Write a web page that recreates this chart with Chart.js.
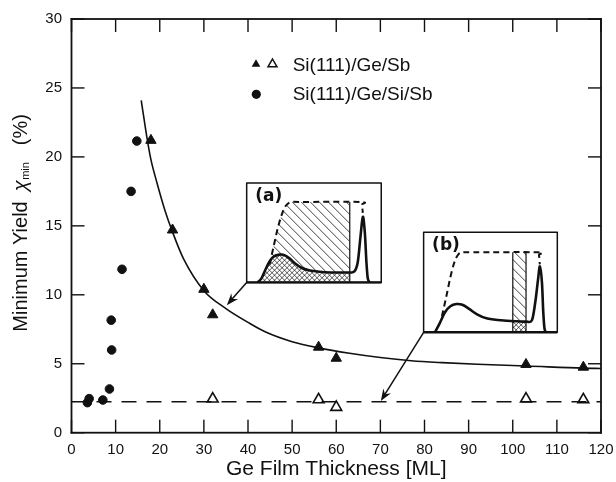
<!DOCTYPE html>
<html>
<head>
<meta charset="utf-8">
<title>Minimum yield vs Ge film thickness</title>
<script src="https://cdn.jsdelivr.net/npm/chart.js@4.4.1/dist/chart.umd.min.js"></script>
<style>
  html, body { margin: 0; padding: 0; background: #fff; }
</style>
</head>
<body>
<canvas id="myChart" width="616" height="482"></canvas>
<script>
// Si(111)/Ge/Sb, filled triangles (on the solid fit)
const geSbX = [18, 22.9, 30, 32, 56, 60, 103, 116];
const geSbY = [21.2, 14.7, 10.4, 8.55, 6.2, 5.4, 4.95, 4.75];
// Si(111)/Ge/Sb, open triangles (on the dashed level)
const geSbOpenX = [32, 56, 60, 103, 116];
const geSbOpenY = [2.45, 2.4, 1.85, 2.45, 2.4];
// Si(111)/Ge/Si/Sb, circles
const geSiSbX = [3.6, 4.0, 7.1, 8.6, 9.1, 9.0, 11.45, 13.5, 14.8];
const geSiSbY = [2.18, 2.47, 2.37, 3.17, 6.0, 8.16, 11.85, 17.5, 21.15];
// solid guide curve
const fitX = [15.8, 17.25, 18, 19.3, 21.2, 22.9, 25.4, 30, 35, 40, 44, 50, 56, 63, 70, 77, 84, 92, 103, 116, 120];
const fitY = [24.1, 21.1, 19.8, 18.2, 16.1, 14.55, 12.6, 10.3, 9.0, 8.0, 7.3, 6.6, 6.15, 5.76, 5.45, 5.22, 5.08, 4.96, 4.84, 4.68, 4.66];
// dashed level
const levelX = [0, 120];
const levelY = [2.25, 2.25];
// tick labels
const xTicks = [0, 10, 20, 30, 40, 50, 60, 70, 80, 90, 100, 110, 120];
const yTicks = [0, 5, 10, 15, 20, 25, 30];

// inset spectra, in inset coordinates (0..1 across, 0..1 up)
const aDash = [[0.17, 0.18], [0.2, 0.36], [0.23, 0.54], [0.26, 0.68], [0.29, 0.77], [0.33, 0.81], [0.4, 0.81], [0.845, 0.81], [0.856, 0.78], [0.863, 0.7]];
const aSolid = [[0.08, 0], [0.11, 0.04], [0.14, 0.13], [0.17, 0.21], [0.2, 0.26], [0.245, 0.28], [0.28, 0.275], [0.32, 0.24], [0.36, 0.19], [0.41, 0.145], [0.47, 0.12], [0.56, 0.105], [0.66, 0.1], [0.76, 0.1], [0.8, 0.11], [0.825, 0.2], [0.845, 0.45], [0.863, 0.66], [0.878, 0.5], [0.89, 0.2], [0.9, 0.04], [0.915, 0]];
const bDash = [[0.137, 0.16], [0.17, 0.36], [0.2, 0.55], [0.23, 0.7], [0.26, 0.78], [0.3, 0.8], [0.4, 0.8], [0.852, 0.8], [0.863, 0.77], [0.869, 0.68]];
const bSolid = [[0.085, 0], [0.12, 0.09], [0.16, 0.2], [0.2, 0.26], [0.245, 0.283], [0.29, 0.275], [0.34, 0.235], [0.4, 0.18], [0.47, 0.14], [0.58, 0.12], [0.7, 0.11], [0.77, 0.107], [0.81, 0.12], [0.835, 0.3], [0.855, 0.52], [0.87, 0.66], [0.885, 0.5], [0.895, 0.2], [0.905, 0.03], [0.92, 0]];

// where the insets and arrows sit, in data units
const insetA = { x: [39.7, 70.2], y: [10.9, 18.1], cut: [0, 0.766], label: '(a)' };
const insetB = { x: [79.8, 110.1], y: [7.28, 14.53], cut: [0.667, 0.766], label: '(b)' };
const arrows = [
    { from: [39.7, 10.9], to: [35.2, 9.25] },
    { from: [79.8, 7.28], to: [70.1, 2.3] }
];

const FONT = '"Liberation Sans", Arial, Helvetica, sans-serif';
const INK = '#111111';
Chart.defaults.font.family = FONT;
Chart.defaults.color = INK;

function toPts(xs, ys) {
    return xs.map((x, i) => ({ x: x, y: ys[i] }));
}

function smooth(c, pts) {
    c.moveTo(pts[0][0], pts[0][1]);
    for (let i = 0; i < pts.length - 1; i++) {
        const p0 = pts[i - 1] || pts[i], p1 = pts[i], p2 = pts[i + 1], p3 = pts[i + 2] || p2;
        c.bezierCurveTo(p1[0] + (p2[0] - p0[0]) / 6, p1[1] + (p2[1] - p0[1]) / 6,
            p2[0] - (p3[0] - p1[0]) / 6, p2[1] - (p3[1] - p1[1]) / 6, p2[0], p2[1]);
    }
}

function hatch(c, L, T, W, H, step, dir) {
    c.beginPath();
    for (let k = -H; k < W + H; k += step) {
        if (dir > 0) { c.moveTo(L + k, T); c.lineTo(L + k + H, T + H); }
        else { c.moveTo(L + k, T + H); c.lineTo(L + k + H, T); }
    }
    c.stroke();
}

function tri(c, x, y, r, filled) {
    c.beginPath();
    c.moveTo(x, y - r);
    c.lineTo(x + 0.866 * r, y + 0.5 * r);
    c.lineTo(x - 0.866 * r, y + 0.5 * r);
    c.closePath();
    if (filled) { c.fill(); } else { c.lineWidth = 1.5; c.stroke(); }
}

function drawInset(c, xs, ys, box, dash, solid) {
    const L = xs.getPixelForValue(box.x[0]), R = xs.getPixelForValue(box.x[1]);
    const B = ys.getPixelForValue(box.y[0]), T = ys.getPixelForValue(box.y[1]);
    const W = R - L, H = B - T;
    const px = p => [L + p[0] * W, B - p[1] * H];
    const d = dash.map(px), s = solid.map(px);
    const c0 = L + box.cut[0] * W, c1 = L + box.cut[1] * W;
    const top = B - Math.max(...dash.map(p => p[1])) * H;

    c.save();
    c.fillStyle = '#fff';
    c.fillRect(L, T, W, H);
    c.strokeStyle = INK;

    // single hatching under the random spectrum
    c.save();
    c.beginPath(); c.rect(c0, T, c1 - c0, H); c.clip();
    c.beginPath(); smooth(c, d);
    c.lineTo(d[d.length - 1][0], B); c.lineTo(d[0][0], B); c.closePath(); c.clip();
    c.lineWidth = 0.8;
    hatch(c, L, T, W, H, 9, 1);
    c.restore();

    // cross hatching under the aligned spectrum
    c.save();
    c.beginPath(); c.rect(c0, T, c1 - c0, H); c.clip();
    c.beginPath(); smooth(c, s); c.closePath(); c.clip();
    c.fillStyle = '#fff'; c.fillRect(L, T, W, H);
    c.lineWidth = 0.7;
    hatch(c, L, T, W, H, 5, 1);
    hatch(c, L, T, W, H, 5, -1);
    c.restore();

    // window edges
    c.lineWidth = 1.2;
    c.beginPath();
    if (box.cut[0] > 0) { c.moveTo(c0, top); c.lineTo(c0, B); }
    c.moveTo(c1, top); c.lineTo(c1, B);
    c.stroke();

    c.lineJoin = 'round';
    c.setLineDash([6, 4]);
    c.lineWidth = 2;
    c.beginPath(); smooth(c, d); c.stroke();
    c.setLineDash([]);
    c.lineWidth = 2.6;
    c.beginPath(); smooth(c, s); c.stroke();

    c.lineWidth = 2.4;
    c.beginPath(); c.moveTo(L, B); c.lineTo(R, B); c.stroke();
    c.lineWidth = 1.5;
    c.strokeRect(L, T, W, H);

    c.fillStyle = INK;
    c.font = 'bold 17px "DejaVu Sans", sans-serif';
    c.textBaseline = 'middle';
    c.textAlign = 'left';
    c.fillText(box.label, L + 8.5, T + 13.5);
    c.restore();
}

function drawArrow(c, x1, y1, x2, y2) {
    const a = Math.atan2(y2 - y1, x2 - x1), ca = Math.cos(a), sa = Math.sin(a);
    c.beginPath();
    c.moveTo(x1, y1);
    c.lineTo(x2 - 8 * ca, y2 - 8 * sa);
    c.stroke();
    c.beginPath();
    c.moveTo(x2, y2);
    c.lineTo(x2 - 12 * ca + 4.5 * sa, y2 - 12 * sa - 4.5 * ca);
    c.lineTo(x2 - 8 * ca, y2 - 8 * sa);
    c.lineTo(x2 - 12 * ca - 4.5 * sa, y2 - 12 * sa + 4.5 * ca);
    c.closePath();
    c.fill();
}

// plot frame and inward ticks on all four sides, as filled bars
function drawFrame(chart, colour) {
    const c = chart.ctx, xs = chart.scales.x, ys = chart.scales.y;
    const L = xs.left, R = xs.right, T = ys.top, B = ys.bottom;
    const fw = 1.8, tw = 1.4, tl = 13;
    c.save();
    c.fillStyle = colour;
    c.fillRect(L - fw / 2, T - fw / 2, R - L + fw, fw);
    c.fillRect(L - fw / 2, B - fw / 2, R - L + fw, fw);
    c.fillRect(L - fw / 2, T - fw / 2, fw, B - T + fw);
    c.fillRect(R - fw / 2, T - fw / 2, fw, B - T + fw);
    xTicks.forEach(v => {
        const x = xs.getPixelForValue(v);
        c.fillRect(x - tw / 2, B - tl, tw, tl);
        c.fillRect(x - tw / 2, T, tw, tl);
    });
    yTicks.forEach(v => {
        const y = ys.getPixelForValue(v);
        c.fillRect(L, y - tw / 2, tl, tw);
        c.fillRect(R - tl, y - tw / 2, tl, tw);
    });
    c.restore();
}

const paperPlugin = {
    id: 'paper',
    afterDatasetsDraw(chart) {
        const c = chart.ctx, xs = chart.scales.x, ys = chart.scales.y;
        drawInset(c, xs, ys, insetA, aDash, aSolid);
        drawInset(c, xs, ys, insetB, bDash, bSolid);
        c.save();
        c.strokeStyle = INK; c.fillStyle = INK; c.lineWidth = 1.5;
        arrows.forEach(ar => {
            drawArrow(c, xs.getPixelForValue(ar.from[0]), ys.getPixelForValue(ar.from[1]),
                xs.getPixelForValue(ar.to[0]), ys.getPixelForValue(ar.to[1]));
        });
        c.restore();
    },
    afterDraw(chart) {
        const c = chart.ctx, a = chart.chartArea;
        c.save();
        c.strokeStyle = INK; c.fillStyle = INK;

        // legend
        const lx = a.left + 184.5, tx = a.left + 221.2;
        tri(c, lx, a.top + 45.2, 5, true);
        tri(c, lx + 16.5, a.top + 45.2, 5.2, false);
        c.beginPath(); c.arc(lx + 0.3, a.top + 75.3, 4.6, 0, Math.PI * 2); c.fill();
        c.font = '19px ' + FONT;
        c.textBaseline = 'middle';
        c.textAlign = 'left';
        c.fillText('Si(111)/Ge/Sb', tx, a.top + 47);
        c.fillText('Si(111)/Ge/Si/Sb', tx, a.top + 75.5);

        // y title with subscript
        const parts = [
            { t: 'Minimum Yield', f: '20px ' + FONT, dy: 0, gap: 10 },
            { t: 'χ', f: 'italic 20px ' + FONT, dy: 0, gap: 0.5 },
            { t: 'min', f: '11px ' + FONT, dy: 2.5, gap: 17 },
            { t: '(%)', f: '20px ' + FONT, dy: 0, gap: 0 }
        ];
        let total = 0;
        parts.forEach(p => { c.font = p.f; p.w = c.measureText(p.t).width; total += p.w + p.gap; });
        c.translate(26.7, (a.top + a.bottom) / 2 - 3);
        c.rotate(-Math.PI / 2);
        c.textBaseline = 'alphabetic';
        let pos = -total / 2;
        parts.forEach(p => { c.font = p.f; c.fillText(p.t, pos, p.dy); pos += p.w + p.gap; });
        c.restore();

        drawFrame(chart, INK);
    }
};

const ctx = document.getElementById('myChart');
new Chart(ctx, {
    type: 'scatter',
    data: {
        datasets: [
            {
                label: 'fit',
                data: toPts(fitX, fitY),
                showLine: true,
                borderColor: INK,
                borderWidth: 1.6,
                pointRadius: 0,
                cubicInterpolationMode: 'monotone'
            },
            {
                label: 'level',
                data: toPts(levelX, levelY),
                showLine: true,
                borderColor: INK,
                borderWidth: 1.5,
                borderDash: [15, 10],
                pointRadius: 0
            },
            {
                label: 'Si(111)/Ge/Sb',
                data: toPts(geSbX, geSbY),
                pointStyle: 'triangle',
                pointRadius: 6,
                backgroundColor: INK,
                borderColor: INK,
                borderWidth: 1
            },
            {
                label: 'Si(111)/Ge/Sb (open)',
                data: toPts(geSbOpenX, geSbOpenY),
                pointStyle: 'triangle',
                pointRadius: 6.3,
                backgroundColor: '#fff',
                borderColor: INK,
                borderWidth: 1.6
            },
            {
                label: 'Si(111)/Ge/Si/Sb',
                data: toPts(geSiSbX, geSiSbY),
                pointStyle: 'circle',
                pointRadius: 4.3,
                backgroundColor: INK,
                borderColor: INK,
                borderWidth: 1
            }
        ]
    },
    options: {
        responsive: false,
        animation: false,
        devicePixelRatio: 1,
        events: [],
        layout: { padding: { top: 19, right: 15, left: 0, bottom: 0 } },
        plugins: {
            legend: { display: false },
            tooltip: { enabled: false }
        },
        scales: {
            x: {
                type: 'linear',
                min: 0,
                max: 120,
                afterBuildTicks: s => { s.ticks = xTicks.map(v => ({ value: v })); },
                afterFit: s => { s.height = 49.3; s.paddingLeft = 0; s.paddingRight = 0; },
                ticks: { font: { size: 15 }, color: INK, padding: 8, maxRotation: 0, autoSkip: false },
                grid: { display: false, drawTicks: false },
                border: { display: false },
                title: {
                    display: true,
                    text: 'Ge Film Thickness [ML]',
                    font: { size: 21 },
                    color: INK,
                    padding: { top: 0, bottom: 0 }
                }
            },
            y: {
                type: 'linear',
                min: 0,
                max: 30,
                afterBuildTicks: s => { s.ticks = yTicks.map(v => ({ value: v })); },
                afterFit: s => { s.width = 71.5; s.paddingTop = 0; s.paddingBottom = 0; },
                ticks: { font: { size: 15 }, color: INK, padding: 9.5 },
                grid: { display: false, drawTicks: false },
                border: { display: false }
            }
        }
    },
    plugins: [paperPlugin]
});
</script>
</body>
</html>
